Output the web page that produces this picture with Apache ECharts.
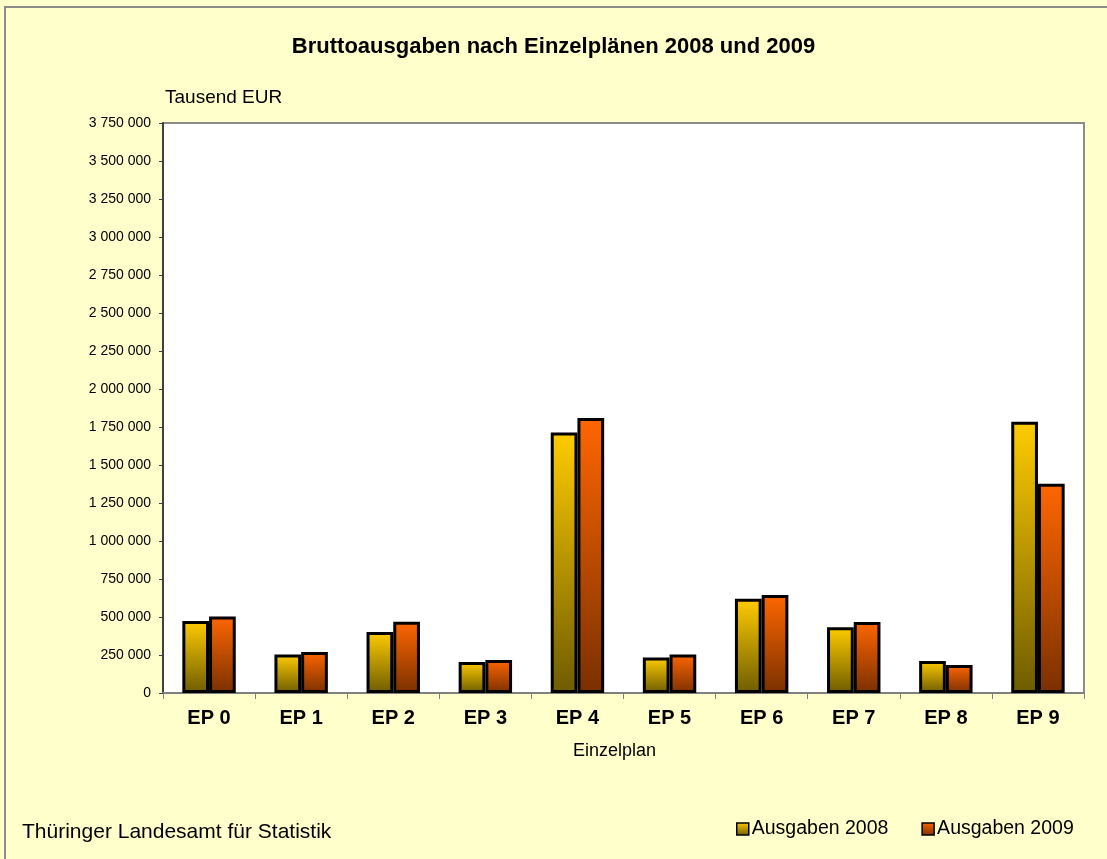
<!DOCTYPE html>
<html>
<head>
<meta charset="utf-8">
<script src="https://cdn.jsdelivr.net/npm/echarts@6/dist/echarts.min.js"></script>
<style>
html,body{margin:0;padding:0;background:#FFFFCC;}
#chart{width:1107px;height:859px;}
</style>
</head>
<body>
<div id="chart"></div>
<script>
const categories = ['EP 0','EP 1','EP 2','EP 3','EP 4','EP 5','EP 6','EP 7','EP 8','EP 9'];
const ausgaben2008 = [474000, 254000, 401000, 204000, 1714000, 234000, 620000, 432000, 211000, 1785000];
const ausgaben2009 = [504000, 270000, 469000, 217000, 1809000, 254000, 645000, 467000, 184000, 1377000];
const seriesNames = ['Ausgaben 2008', 'Ausgaben 2009'];

const FONT = '"Liberation Sans", Arial, sans-serif';
function fmt(v){ return String(v).replace(/\B(?=(\d{3})+(?!\d))/g, ' '); }
function grad(top, bottom){
  return new echarts.graphic.LinearGradient(0,0,0,1,[{offset:0,color:top},{offset:1,color:bottom}]);
}

const chart = echarts.init(document.getElementById('chart'));
chart.setOption({
  backgroundColor: '#FFFFCC',
  animation: false,
  textStyle: {fontFamily: FONT},
  graphic: [
    {type:'rect', shape:{x:5,y:7,width:1110,height:860}, style:{fill:'none', stroke:'#8c8c8c', lineWidth:2}, silent:true, z:-1},
    {type:'text', left:'center', top:36, style:{text:'Bruttoausgaben nach Einzelplänen 2008 und 2009', font:'bold 22px '+FONT, fill:'#000'}},
    {type:'text', left:165, top:88, style:{text:'Tausend EUR', font:'19px '+FONT, fill:'#000'}},
    {type:'text', left:573, top:742, style:{text:'Einzelplan', font:'18px '+FONT, fill:'#000'}},
    {type:'text', left:22, top:822, style:{text:'Thüringer Landesamt für Statistik', font:'21px '+FONT, fill:'#000'}}
  ],
  legend: {
    data: seriesNames,
    left: 731, top: 814,
    itemWidth: 12, itemHeight: 12, itemGap: 33,
    icon: 'rect',
    itemStyle: {borderColor:'#000', borderWidth:1.5},
    textStyle: {fontSize:19.5, color:'#000', fontFamily: FONT, padding:[0,0,0,-2]}
  },
  grid: {
    left: 163, top: 123, right: 23, bottom: 166,
    show: true, backgroundColor: '#FFFFFF', borderColor: '#8c8c8c', borderWidth: 2
  },
  xAxis: {
    type: 'category',
    data: categories,
    axisLine: {lineStyle:{color:'#808080', width:2}},
    axisTick: {show:true, alignWithLabel:false, length:6, lineStyle:{color:'#808080'}},
    axisLabel: {fontSize:20, fontWeight:'bold', color:'#000', margin:15, fontFamily: FONT}
  },
  yAxis: {
    type: 'value',
    min: 0, max: 3750000, interval: 250000,
    axisLine: {show:true, lineStyle:{color:'#404040', width:2}},
    axisTick: {show:true, length:4, lineStyle:{color:'#404040'}},
    splitLine: {show:false},
    axisLabel: {fontSize:14, color:'#000', margin:12, formatter: fmt, fontFamily: FONT}
  },
  series: [
    {
      name: seriesNames[0], type: 'bar', data: ausgaben2008,
      barGap: '0%', barCategoryGap: '42%',
      itemStyle: {color: grad('#FFCC00', '#6E5C00'), borderColor:'#000', borderWidth:3}
    },
    {
      name: seriesNames[1], type: 'bar', data: ausgaben2009,
      itemStyle: {color: grad('#FF6600', '#7A3000'), borderColor:'#000', borderWidth:3}
    }
  ]
});
</script>
</body>
</html>
